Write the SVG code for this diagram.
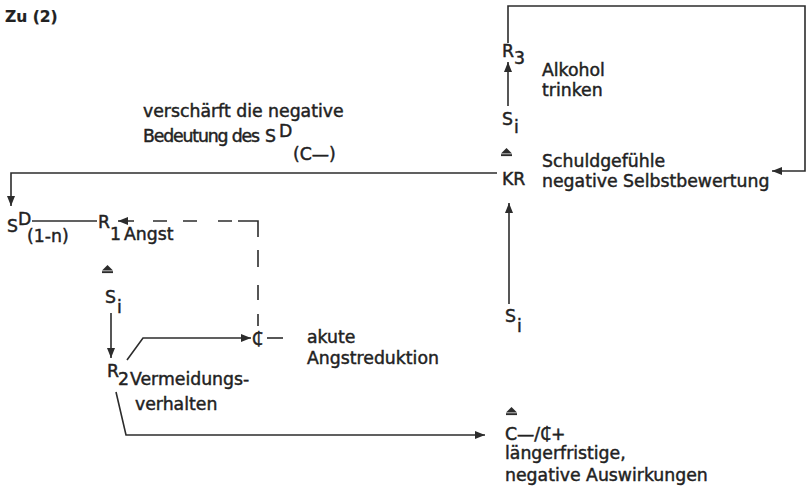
<svg xmlns="http://www.w3.org/2000/svg" width="808" height="491" viewBox="0 0 808 491">
<defs>
<style>
text{font-family:"DejaVu Sans","Liberation Sans",Arial,sans-serif;font-size:17.3px;fill:#222;stroke:#222;stroke-width:0.45px}
.t{font-weight:bold;font-size:15.5px;stroke-width:0.2px}
.cs{font-family:"Noto Sans","DejaVu Sans",sans-serif}
.ln{fill:none;stroke:#2c2c2c;stroke-width:1.6}
.tri{fill:#2c2c2c}
</style>
<marker id="ah" viewBox="0 0 10 8" refX="10" refY="4" markerWidth="10" markerHeight="8" markerUnits="userSpaceOnUse" orient="auto">
<path d="M0,0 L10,4 L0,8 Z" fill="#2c2c2c"/>
</marker>
<g id="corr">
<path d="M0,5.5 L5.5,0 L11,5.5 Z" class="tri"/>
<rect x="0" y="6.2" width="11" height="1.9" class="tri"/>
</g>
</defs>
<rect width="808" height="491" fill="#ffffff"/>

<g id="title"><text class="t" x="5" y="22">Zu (2)</text></g>

<g id="connectors">
<path class="ln" d="M508,43 V6 H805 V171 H772" marker-end="url(#ah)"/>
<path class="ln" d="M508,106 V62" marker-end="url(#ah)"/>
<path class="ln" d="M497,173 H11 V206" marker-end="url(#ah)"/>
<path class="ln" d="M509,304 V203" marker-end="url(#ah)"/>
<path class="ln" d="M32,221 H97"/>
<path class="ln" d="M258,326 V314 M258,300 V285 M258,267 V250 M258,237 V221 H238 M232,221 H218 M197,221 H183 M167,221 H153 M134,221 H118" marker-end="url(#ah)"/>
<path class="ln" d="M111,313 V358" marker-end="url(#ah)"/>
<path class="ln" d="M127,360 L143,338 H251" marker-end="url(#ah)"/>
<path class="ln" d="M267,338 H283"/>
<path class="ln" d="M116,392 L126,435 H485" marker-end="url(#ah)"/>
</g>

<g id="node-R3"><text x="502" y="57">R</text><text x="514" y="64">3</text><text x="542" y="76">Alkohol</text><text x="542" y="96">trinken</text></g>
<g id="node-Si-top"><text x="502" y="125">S</text><text x="514" y="133">i</text></g>
<g id="node-KR"><use href="#corr" x="501" y="148"/><text x="502" y="185">KR</text><text x="542" y="167">Schuldgefühle</text><text x="542" y="187">negative Selbstbewertung</text></g>
<g id="note"><text x="143" y="117">verschärft die negative</text><text x="143" y="142" textLength="117" lengthAdjust="spacing">Bedeutung des</text><text x="265" y="142">S</text><text x="279" y="137">D</text><text x="293" y="160">(C—)</text></g>
<g id="node-SD"><text x="7" y="232">S</text><text x="18" y="225">D</text><text x="27" y="242">(1-n)</text></g>
<g id="node-R1"><text x="98" y="228">R</text><text x="110" y="240">1</text><text x="124" y="240">Angst</text></g>
<g id="node-Si-left"><use href="#corr" x="102" y="265"/><text x="105" y="303">S</text><text x="117" y="313">i</text></g>
<g id="node-R2"><text x="107" y="377">R</text><text x="118" y="385">2</text><text x="130" y="385">Vermeidungs-</text><text x="135" y="410">verhalten</text></g>
<g id="node-C"><text class="cs" x="252" y="345">₵</text><text x="307" y="343">akute</text><text x="307" y="364">Angstreduktion</text></g>
<g id="node-Si-right"><text x="505" y="322">S</text><text x="517" y="332">i</text></g>
<g id="node-Cminus"><use href="#corr" x="506" y="407"/><text x="505" y="440">C—/<tspan class="cs">₵</tspan>+</text><text x="505" y="459">längerfristige,</text><text x="505" y="481">negative Auswirkungen</text></g>
</svg>
